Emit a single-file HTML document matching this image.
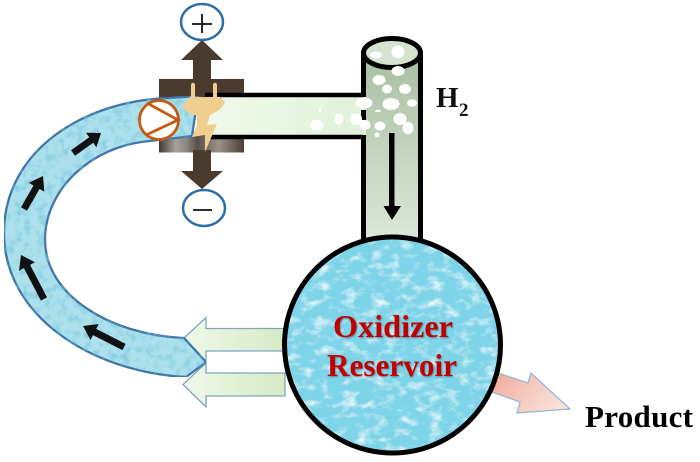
<!DOCTYPE html>
<html><head><meta charset="utf-8"><style>html,body{margin:0;padding:0;background:#fff}svg{display:block}text{font-family:"Liberation Serif",serif;font-weight:bold}</style></head>
<body>
<svg width="700" height="462" viewBox="0 0 700 462" xmlns="http://www.w3.org/2000/svg">
<defs>
<filter id="water" x="0" y="0" width="100%" height="100%" color-interpolation-filters="sRGB">
<feTurbulence type="fractalNoise" baseFrequency="0.07 0.11" numOctaves="4" seed="4" result="n"/>
<feColorMatrix in="n" type="matrix" values="0 0 0 0 1 0 0 0 0 1 0 0 0 0 1 2.2 0 0 0 -1.05" result="w"/>
<feComposite in="w" in2="SourceAlpha" operator="in" result="c"/>
<feMerge><feMergeNode in="SourceGraphic"/><feMergeNode in="c"/></feMerge>
</filter>
<filter id="drops" x="0" y="0" width="100%" height="100%" color-interpolation-filters="sRGB">
<feTurbulence type="fractalNoise" baseFrequency="0.13" numOctaves="3" seed="9" result="n"/>
<feColorMatrix in="n" type="matrix" values="0 0 0 0 0.45 0 0 0 0 0.76 0 0 0 0 0.86 1.8 0 0 0 -0.85" result="w"/>
<feComposite in="w" in2="SourceAlpha" operator="in" result="c"/>
<feMerge><feMergeNode in="SourceGraphic"/><feMergeNode in="c"/></feMerge>
</filter>
<filter id="soft"><feGaussianBlur stdDeviation="0.35"/></filter>
<filter id="ts" x="-5%" y="-10%" width="110%" height="125%"><feDropShadow dx="0.8" dy="1" stdDeviation="0.7" flood-color="#3a4a55" flood-opacity=".55"/></filter>
<linearGradient id="gh" x1="0" x2="1" y1="0" y2="0"><stop offset="0" stop-color="#f0f9ec"/><stop offset="1" stop-color="#dff1d5"/></linearGradient>
<linearGradient id="gv" x1="0" x2="0" y1="0" y2="1"><stop offset="0" stop-color="#a9bea0"/><stop offset="1" stop-color="#dde8d8"/></linearGradient>
<linearGradient id="ga" x1="1" x2="0" y1="0" y2="0"><stop offset="0" stop-color="#d5ebc4"/><stop offset="1" stop-color="#f0f8ea"/></linearGradient>
<linearGradient id="gp" x1="0" x2="1" y1="0" y2="0.4"><stop offset="0" stop-color="#eea795"/><stop offset="1" stop-color="#f9e0d8"/></linearGradient>
<linearGradient id="gb" x1="0" x2="1" y1="0" y2="0"><stop offset="0" stop-color="#3f3a36"/><stop offset=".2" stop-color="#a8a09a"/><stop offset=".32" stop-color="#8e8680"/><stop offset=".45" stop-color="#5a4f48"/><stop offset=".7" stop-color="#9b928c"/><stop offset="1" stop-color="#4a3f38"/></linearGradient>
</defs>

<!-- electrode cross -->
<rect x="159" y="79" width="85" height="20" fill="#4b3a2e"/>
<rect x="159" y="132" width="85" height="20.500" fill="url(#gb)"/>
<path d="M202 40L223 60H211V80H193V60H181Z" fill="#4b3a2e"/>
<path d="M193 150H211V171H223L202 189L181 171H193Z" fill="#4b3a2e"/>
<ellipse cx="202" cy="22" rx="21" ry="18" fill="#fff" stroke="#2e6da4" stroke-width="2.500"/>
<ellipse cx="204" cy="208" rx="21" ry="18" fill="#fff" stroke="#2e6da4" stroke-width="2.500"/>
<path d="M192 24H212M202 14V33M193 210H212" stroke="#111" stroke-width="1.800" fill="none"/>

<!-- horizontal pipe -->
<rect x="205" y="96" width="165" height="41" fill="url(#gh)"/>
<path d="M205 95H363M205 137H363" stroke="#000" stroke-width="4.500" fill="none"/>

<!-- vertical pipe -->
<rect x="366" y="52" width="54" height="190" fill="url(#gv)"/>
<path d="M363.500 53V97M363.500 110V120M363.500 135V240M420.500 53V240" stroke="#000" stroke-width="5" fill="none"/>
<ellipse cx="392" cy="53" rx="28.500" ry="14.500" fill="#d5e2d0" stroke="#000" stroke-width="5"/>

<!-- bubbles -->
<g fill="#fff" filter="url(#soft)">
<ellipse cx="376" cy="55" rx="6" ry="3.500"/><ellipse cx="398" cy="52" rx="6.500" ry="6.500"/><ellipse cx="398" cy="71" rx="6.500" ry="5"/>
<ellipse cx="379" cy="80" rx="6.500" ry="5"/><ellipse cx="387" cy="89" rx="5" ry="4.500"/><ellipse cx="405" cy="89" rx="6" ry="5"/>
<ellipse cx="391" cy="104" rx="8.500" ry="6"/><ellipse cx="412" cy="103" rx="5" ry="3.800"/><ellipse cx="364" cy="103" rx="8.500" ry="5.500"/>
<ellipse cx="378" cy="111" rx="3" ry="1.300"/><ellipse cx="400" cy="119" rx="6.500" ry="6"/><ellipse cx="408" cy="128" rx="5.500" ry="6"/>
<ellipse cx="380" cy="126" rx="5.500" ry="4.500"/><ellipse cx="365" cy="125" rx="5.500" ry="5"/><ellipse cx="377" cy="135" rx="2.500" ry="2.500"/>
<ellipse cx="356" cy="119" rx="6" ry="6"/><ellipse cx="339" cy="119" rx="4.500" ry="5.500"/><ellipse cx="317" cy="125" rx="6.500" ry="5.500"/><ellipse cx="320" cy="110" rx="1.200" ry="2.500"/>
</g>
<path d="M389 133H394.500V206H401L392 220L383.500 206H389Z" fill="#000"/>

<!-- green arrows -->
<path d="M285 328.500H206V317.500L184 338L206 363V351H285Z" fill="url(#ga)" stroke="#7fa3c4" stroke-width="1.300"/>
<path d="M285 373H206V363L183 384.500L206 407V396H285Z" fill="url(#ga)" stroke="#7fa3c4" stroke-width="1.300"/>

<!-- product arrow -->
<path d="M492 371L528 383L531 373L570 409L517 413L520 402L486 390Z" fill="url(#gp)" stroke="#8fb4d8" stroke-width="1.200"/>

<!-- return pipe -->
<path d="M198 96L170 98C85 100 4 150 4 233C4 315 90 372 186 377L206 362L184 338C110 335 45 295 45 240C45 190 90 146 150 141L192 136Z" fill="#abe0ec" stroke="#3f74a6" stroke-width="2.300" filter="url(#drops)"/>
<g fill="#111">
<path d="M75 155.800L93.200 142.800L96.400 147.300L101 133L86 132.700L89.200 137.200L71 150.200Z"/>
<path d="M27 210.800L39.500 189L44.300 191.800L43 176L28.700 182.800L33.500 185.500L21 207.200Z"/>
<path d="M47.100 297.400L30.100 264.900L35 262.300L21 255L19 270.700L23.900 268.100L40.900 300.600Z"/>
<path d="M125.600 343.900L96.200 328.900L98.700 324L83 326L90.500 340L93 335.100L122.400 350.100Z"/>
</g>

<!-- plug and bolt -->
<path d="M191 85C191 82 195 82 195 85V97H213V85C213 82 217 82 217 85V97L220 97L225 102C223 108 217 112 210 115L207 125L217 124L205 152L205 135L192 137L197 125L197 115L192 115C188 113 184 110 183 105L190 97L191 97Z" fill="#f0cf8e"/>

<!-- pump -->
<circle cx="159" cy="120" r="19.500" fill="#fff" stroke="#c55a11" stroke-width="2.800"/>
<path d="M147 103L178 120L146 135" fill="none" stroke="#c55a11" stroke-width="2.800"/>

<!-- reservoir -->
<circle cx="392.500" cy="345" r="108" fill="#7dd3e8" filter="url(#water)"/>
<circle cx="392.500" cy="345" r="108" fill="none" stroke="#000" stroke-width="5"/>
<g filter="url(#ts)">
<text x="393" y="337" text-anchor="middle" font-size="32" fill="#c00000" textLength="120" lengthAdjust="spacingAndGlyphs">Oxidizer</text>
<text x="392" y="376" text-anchor="middle" font-size="31.500" fill="#c00000" textLength="130" lengthAdjust="spacingAndGlyphs">Reservoir</text>
</g>

<!-- labels -->
<text x="436" y="107" font-size="29" fill="#111">H</text>
<text x="459" y="116" font-size="19" fill="#111">2</text>
<text x="585" y="427" font-size="31" fill="#000" textLength="108" lengthAdjust="spacing">Product</text>
</svg>
</body></html>
